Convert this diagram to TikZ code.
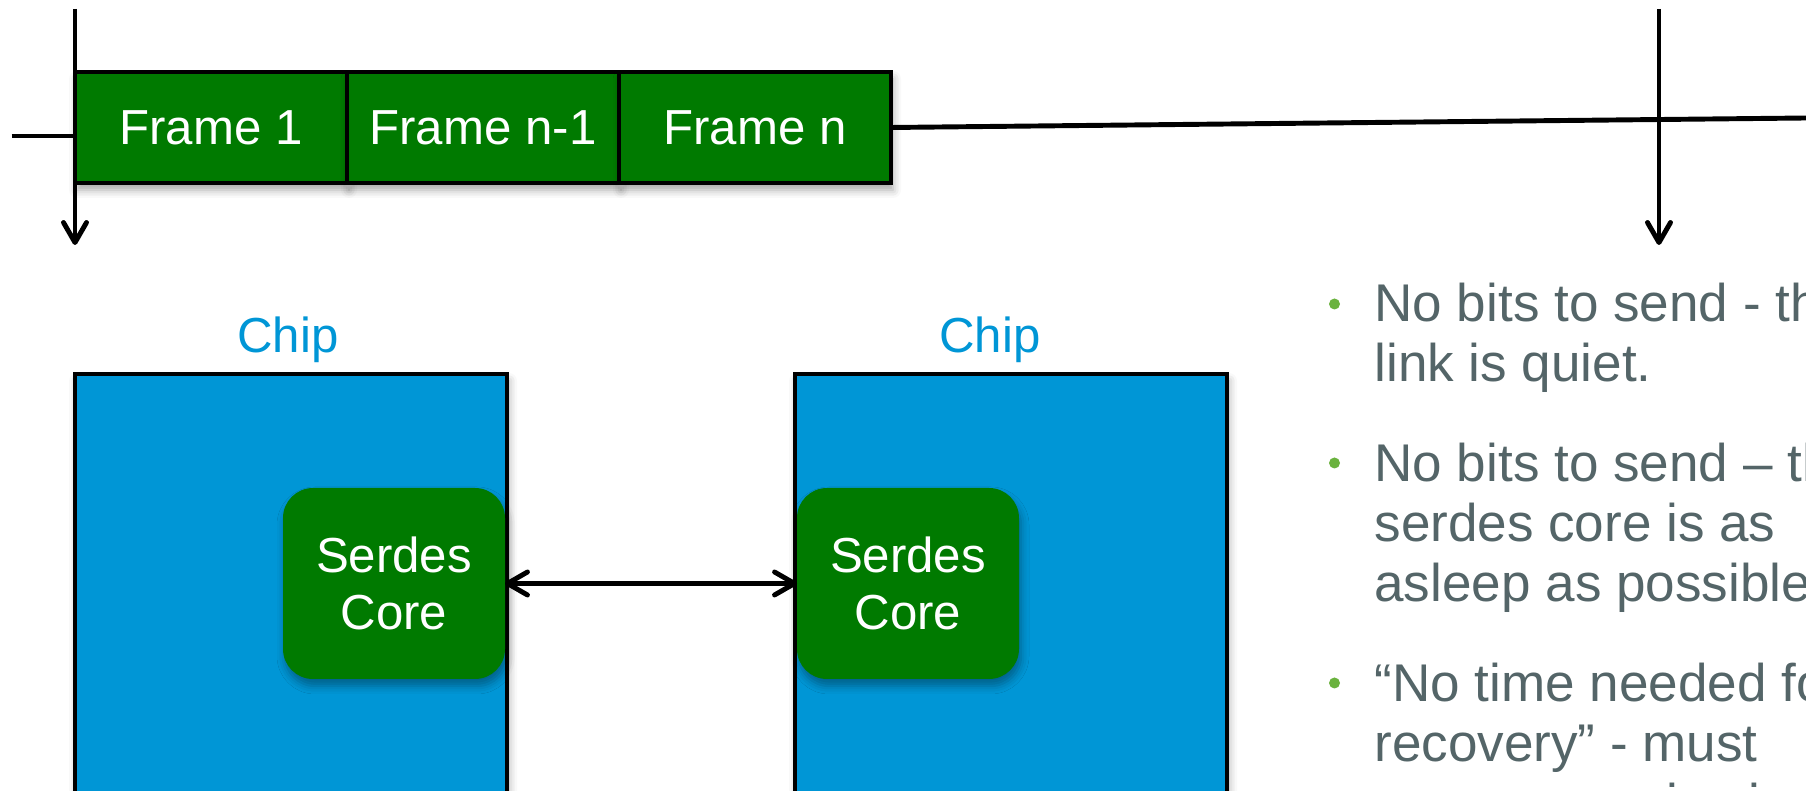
\documentclass[tikz,border=0pt]{standalone}
\usepackage{fontspec}
\setmainfont{Liberation Sans}
\usetikzlibrary{arrows.meta,shadows.blur}

\definecolor{framegreen}{RGB}{0,122,0}
\definecolor{chipblue}{RGB}{0,150,214}
\definecolor{bulletgray}{RGB}{84,101,104}
\definecolor{dotgreen}{RGB}{106,178,62}

\tikzset{
  soft/.style={blur shadow={shadow xshift=0.2mm, shadow yshift=-0.7mm, shadow blur radius=0.8mm, shadow opacity=35}},
  framebox/.style={draw, fill=framegreen, text=white, minimum width=2.72cm, minimum height=1.11cm,
    inner sep=0, outer sep=0, font=\fontsize{14pt}{16pt}\selectfont, soft},
  chipbox/.style={draw, fill=chipblue, minimum width=4.32cm, minimum height=4.47cm, inner sep=0, outer sep=0, soft},
  chiplabel/.style={anchor=base, text=chipblue, font=\fontsize{14pt}{16pt}\selectfont},
  serdes/.style={fill=framegreen, rounded corners=3mm, text=white, align=center, minimum width=2.22cm,
    minimum height=1.91cm, inner sep=0, outer sep=0, font=\fontsize{14pt}{16.2pt}\selectfont, soft},
  dot/.style={circle, fill=dotgreen, minimum size=1.1mm, inner sep=0},
  bultext/.style={anchor=base west, inner sep=0, text=bulletgray, font=\fontsize{15.1pt}{17pt}\selectfont}
}

\begin{document}
\begin{tikzpicture}[line width=1.4pt, >={Straight Barb[length=2mm,width=2.3mm,round]}]

  \useasboundingbox (0,0) rectangle (18.06,7.91);
  \clip (0,0) rectangle (18.06,7.91);

  \coordinate (t0) at (0.115,6.55);
  \coordinate (t1) at (18.06,6.73);
  \coordinate (m0) at (0.75,7.82);
  \coordinate (n0) at (0.75,5.46);
  \coordinate (m1) at (16.59,7.82);
  \coordinate (n1) at (16.59,5.46);

  % frames on the line
  \begin{scope}[every node/.style={framebox}]
    \node (f1) at (2.11,6.635) {Frame 1};
    \node (f2) at (4.83,6.635) {Frame n-1};
    \node (f3) at (7.55,6.635) {Frame n};
  \end{scope}

  \draw (t0) -- (t0 -| f1.west);
  \draw (f3.east) -- (t1);
  \draw[->] (m0) -- (n0);
  \draw[->] (m1) -- (n1);

  % the two chips
  \begin{scope}[every node/.style={chipbox}]
    \node (c1) at (2.91,1.935) {};
    \node (c2) at (10.11,1.935) {};
  \end{scope}
  \node[chiplabel] (h1) at (2.88,4.38) {Chip};
  \node[chiplabel] (h2) at (9.90,4.38) {Chip};

  \node[serdes] (s1) at (3.94,2.075) {Serdes\\Core};
  \node[serdes] (s2) at (9.08,2.075) {Serdes\\Core};
  \draw[<->] (s1.east) -- (s2.west);

  % bullet list
  \foreach \p [count=\i] in {4.87,3.28,1.08}
    \node[dot] (d\i) at (13.345,\p) {};
  \foreach \y/\t [count=\i] in {4.69/No bits to send - the, 4.09/link is quiet.,
      3.09/No bits to send – the, 2.49/serdes core is as, 1.89/asleep as possible.,
      0.89/“No time needed for, 0.29/recovery” - must, -0.31/resume service instantly}
    \node[bultext] (l\i) at (13.72,\y) {\t};

\end{tikzpicture}
\end{document}
